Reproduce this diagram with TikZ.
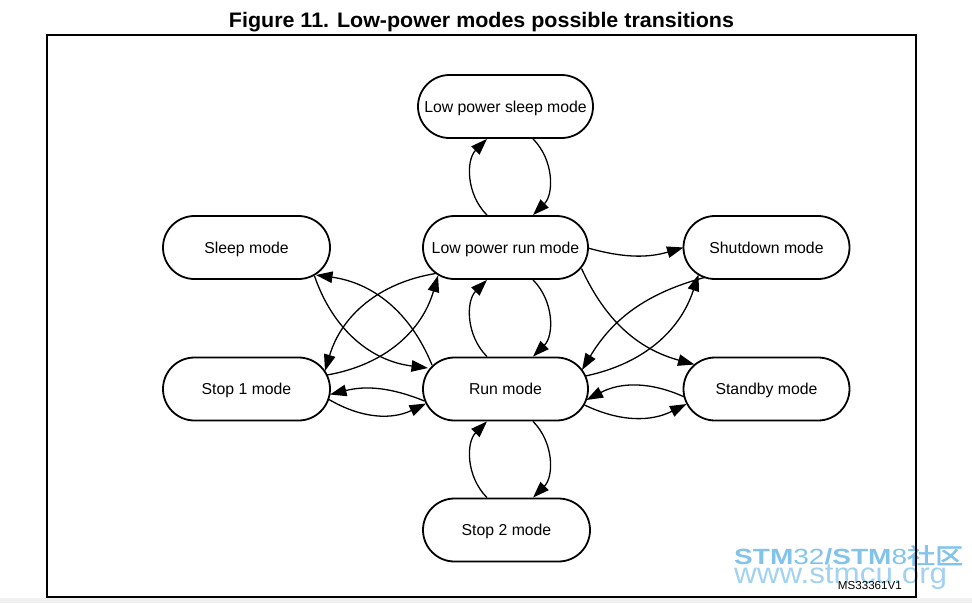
\documentclass[tikz,border=0pt]{standalone}
\usepackage{fontspec}
\setmainfont{Liberation Sans}
\newfontfamily\cjkfont[AutoFakeBold=2.5]{Noto Sans CJK SC}
\usetikzlibrary{arrows.meta}
\definecolor{wm}{RGB}{130,195,235}
\definecolor{pagegray}{RGB}{240,240,240}
\begin{document}
\begin{tikzpicture}[x=1pt,y=-1pt,
  mode/.style={draw,line width=1.8pt,rounded corners=31.5pt,minimum height=63pt,
    inner sep=0pt,font=\fontsize{15.8}{19}\selectfont,text height=11.3pt,text depth=0pt},
  tr/.style={-{Triangle[length=16.5pt,width=11.5pt]},line width=1.3pt}]
\useasboundingbox (0,0) rectangle (972,603);
\fill[pagegray] (0,598) rectangle (972,603);
% watermark
\node[anchor=base west,inner sep=0pt,text=wm] (wm1) at (734,564)
  {\resizebox{229pt}{\height}{\fontsize{22}{26}\selectfont\textbf{STM}32\textbf{/STM}8{\cjkfont\bfseries 社区}}};
\node[anchor=base west,inner sep=0pt,text=wm!75] (wm2) at (734,583.5)
  {\resizebox{213pt}{\height}{\fontsize{29}{32}\selectfont www.stmcu.org}};
% frame
\draw[line width=2pt] (47,34.5) rectangle (915.5,597);
\node[anchor=base,inner sep=0pt] (title) at (481.5,27.3)
  {\resizebox{505pt}{\height}{\fontsize{21}{25}\selectfont\bfseries Figure 11. Low-power modes possible transitions}};
\node[anchor=base east,inner sep=0pt] (ms) at (902,589.5) {\fontsize{11.6}{13}\selectfont MS33361V1};
% nodes
\node[mode,minimum width=175pt] (lps) at (505.5,106.5) {Low power sleep mode};
\node[mode,minimum width=167pt] (sleep) at (246.5,247.5) {Sleep mode};
\node[mode,minimum width=165pt] (lpr) at (505.5,247.5) {Low power run mode};
\node[mode,minimum width=166pt] (shut) at (766.5,247.5) {Shutdown mode};
\node[mode,minimum width=167pt] (stop1) at (246.5,389) {Stop 1 mode};
\node[mode,minimum width=165pt] (run) at (505.5,389) {Run mode};
\node[mode,minimum width=166pt] (stby) at (766.5,389) {Standby mode};
\node[mode,minimum width=167pt] (stop2) at (506.5,530) {Stop 2 mode};
% vertical transitions
\draw[tr] ([xshift=-18.5pt]lpr.north) to[bend left=45] ([xshift=-18.5pt]lps.south);
\draw[tr] ([xshift=27.5pt]lps.south) to[bend left=45] ([xshift=27.5pt]lpr.north);
\draw[tr] ([xshift=-18.5pt]run.north) to[bend left=45] ([xshift=-18.5pt]lpr.south);
\draw[tr] ([xshift=27.5pt]lpr.south) to[bend left=45] ([xshift=27.5pt]run.north);
\draw[tr] ([xshift=-19.5pt]stop2.north) to[bend left=45] ([xshift=-18.5pt]run.south);
\draw[tr] ([xshift=27.5pt]run.south) to[bend left=45] ([xshift=26.5pt]stop2.north);
% left side
\draw[tr] ([shift={(-73.5,-24)}]run.center) to[bend right=30] ([shift={(69.5,27.5)}]sleep.center);
\draw[tr] ([shift={(68,28.5)}]sleep.center) to[bend right=32] ([shift={(-77.5,-21)}]run.center);
\draw[tr] ([shift={(-70,26)}]lpr.center) to[bend right=32] ([shift={(78.5,-18)}]stop1.center);
\draw[tr] ([shift={(80.5,-14)}]stop1.center) to[bend right=32] ([shift={(-67.5,28)}]lpr.center);
\draw[tr] ([shift={(-81,12)}]run.center) to[bend right=18] ([shift={(83.5,5.5)}]stop1.center);
\draw[tr] ([shift={(82.5,10.5)}]stop1.center) to[bend right=28] ([shift={(-79.5,14.5)}]run.center);
% right side
\draw[tr] ([shift={(82.5,0.5)}]lpr.center) to[bend right=16] ([shift={(-83,0)}]shut.center);
\draw[tr] ([shift={(76,21)}]lpr.center) to[bend right=25] ([shift={(-72,-24.5)}]stby.center);
\draw[tr] ([shift={(-62,30)}]shut.center) to[bend right=22] ([shift={(76.5,-19)}]run.center);
\draw[tr] ([shift={(80,-13)}]run.center) to[bend right=30] ([shift={(-68,27)}]shut.center);
\draw[tr] ([shift={(-82,8)}]stby.center) to[bend right=26] ([shift={(81,11)}]run.center);
\draw[tr] ([shift={(79,16)}]run.center) to[bend right=26] ([shift={(-80,15)}]stby.center);
\end{tikzpicture}
\end{document}
